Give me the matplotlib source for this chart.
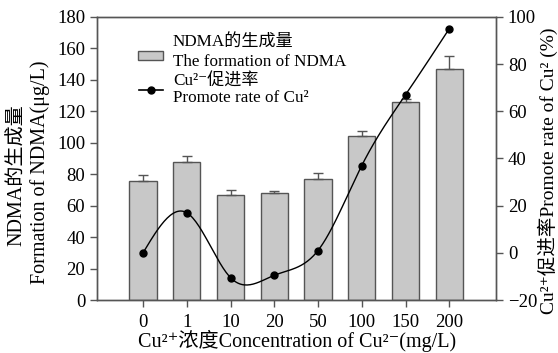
import matplotlib.pyplot as plt
import numpy as np

plt.rcParams['font.family'] = ['Liberation Serif', 'Noto Sans CJK SC', 'DejaVu Serif']

# data
conc = ['0', '1', '10', '20', '50', '100', '150', '200']
ndma = [76, 88, 67, 68, 77, 104, 126, 147]
ndma_err = [3.5, 3.5, 3, 1.5, 4, 3.5, 2, 8]
rate = [0, 17, -10.5, -9.5, 1, 37, 67, 95]


def natural_spline(xp, yp, n=30):
    # natural cubic spline, only used to draw the smooth line
    xp = np.asarray(xp, float)
    yp = np.asarray(yp, float)
    k = len(xp)
    h = np.diff(xp)
    A = np.zeros((k, k))
    b = np.zeros(k)
    A[0, 0] = A[-1, -1] = 1
    for i in range(1, k - 1):
        A[i, i - 1] = h[i - 1]
        A[i, i] = 2 * (h[i - 1] + h[i])
        A[i, i + 1] = h[i]
        b[i] = 6 * ((yp[i + 1] - yp[i]) / h[i] - (yp[i] - yp[i - 1]) / h[i - 1])
    M = np.linalg.solve(A, b)
    xs, ys = [], []
    for i in range(k - 1):
        t = np.linspace(xp[i], xp[i + 1], n)
        a = xp[i + 1] - t
        c = t - xp[i]
        y = (M[i] * a**3 + M[i + 1] * c**3) / (6 * h[i]) \
            + (yp[i] / h[i] - M[i] * h[i] / 6) * a \
            + (yp[i + 1] / h[i] - M[i + 1] * h[i] / 6) * c
        xs.extend(t)
        ys.extend(y)
    return np.array(xs), np.array(ys)


x = np.arange(len(conc))
W, H = 558, 353

fig = plt.figure(figsize=(5.58, 3.53), dpi=100)
ax = fig.add_axes([0.174, 0.150, 0.715, 0.802])

ax.bar(x, ndma, width=0.62, color='#c8c8c8', edgecolor='#555555', linewidth=1.0)
ax.errorbar(x, ndma, yerr=[np.zeros(len(ndma)), ndma_err], fmt='none',
            ecolor='#555555', elinewidth=1.0, capsize=3.5, capthick=1.0)

ax.set_xlim(-1.05, 8.07)
ax.set_ylim(0, 180)
ax.set_yticks(np.arange(0, 181, 20))
ax.set_xticks(x)
ax.set_xticklabels(conc)
ax.tick_params(labelsize=13.5, color='#555555', length=5, width=1.0)
ax.tick_params(axis='x', pad=5)
for s in ax.spines.values():
    s.set_color('#555555')
    s.set_linewidth(1.0)

ax2 = ax.twinx()
sx, sy = natural_spline(x, rate)
ax2.plot(sx, sy, color='black', linewidth=1.0)
ax2.plot(x, rate, 'o', color='black', markersize=5)
ax2.set_ylim(-20, 100)
ax2.set_yticks(np.arange(-20, 101, 20))
ax2.tick_params(labelsize=13.5, color='#555555', length=5, width=1.0)
for s in ax2.spines.values():
    s.set_color('#555555')
    s.set_linewidth(1.0)

# axis titles placed by hand
fig.text(18 / W, 1 - 175 / H, 'NDMA的生成量', rotation=90, fontsize=14.5,
         ha='center', va='center')
fig.text(40 / W, 1 - 172 / H, 'Formation of NDMA(μg/L)', rotation=90, fontsize=14.5,
         ha='center', va='center')
fig.text(548 / W, 1 - 171 / H, 'Cu²⁺促进率Promote rate of Cu² (%)', rotation=90,
         fontsize=14, ha='center', va='center')
fig.text(297 / W, 1 - 341 / H, 'Cu²⁺浓度Concentration of Cu²⁻(mg/L)', fontsize=14.5,
         ha='center', va='center')

# legend
lx0, lx1 = 0.105, 0.165
ax.add_patch(plt.Rectangle((0.103, 0.848), 0.062, 0.032, transform=ax.transAxes,
                           facecolor='#c8c8c8', edgecolor='#555555', linewidth=1.0))
ax.plot([lx0, lx1], [0.742, 0.742], color='black', linewidth=1.2, transform=ax.transAxes)
ax.plot([(lx0 + lx1) / 2], [0.742], 'o', color='black', markersize=5, transform=ax.transAxes)
leg_lines = ['NDMA的生成量', 'The formation of NDMA', 'Cu²⁻促进率', 'Promote rate of Cu²']
leg_y = [0.908, 0.841, 0.772, 0.714]
for t, yy in zip(leg_lines, leg_y):
    ax.text(0.19, yy, t, transform=ax.transAxes, fontsize=12.3, va='center')

fig.savefig('out.png', dpi=100)
